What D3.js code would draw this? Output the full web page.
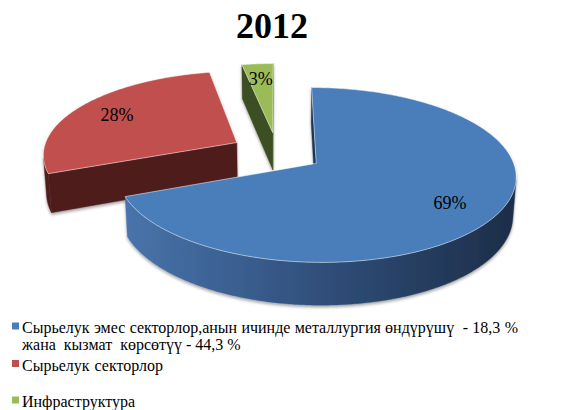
<!DOCTYPE html>
<html>
<head>
<meta charset="utf-8">
<script src="https://cdn.jsdelivr.net/npm/d3@7"></script>
<style>
  body { margin: 0; background: #fff; }
  svg { display: block; }
</style>
</head>
<body>
<svg id="chart" width="564" height="410"></svg>
<script>
// ---- data ----
const title = "2012";
const categories = [
  "Сырьелук эмес секторлор,анын ичинде металлургия өндүрүшү  - 18,3 %\nжана  кызмат  көрсөтүү - 44,3 %",
  "Сырьелук секторлор",
  "Инфраструктура"
];
const values = [69, 28, 3];
const valueLabels = ["69%", "28%", "3%"];

// ---- styles ----
const palette = [
  { top: "#4a7ebb", cut: "#1f3454", wallFrom: "#4874ab", wallMid: "#304f7b", wallTo: "#1c2d47", key: "#4a7ebb" },
  { top: "#c0504d", cut: "#4f1f1e", wallFrom: "#55211f", wallMid: "#4f1f1e", wallTo: "#4a1c1b", key: "#c0504d" },
  { top: "#9bbb59", cut: "#3e5022", wallFrom: "#4a5f29", wallMid: "#3e5022", wallTo: "#33431c", key: "#9bbb59" }
];
const serif = "'Liberation Serif', 'Times New Roman', serif";

const svg = d3.select("#chart");
const defs = svg.append("defs");

const shadow = defs.append("filter").attr("id", "shade")
  .attr("x", "-10%").attr("y", "-10%").attr("width", "120%").attr("height", "130%");
shadow.append("feDropShadow")
  .attr("dx", 0).attr("dy", 2).attr("stdDeviation", 1.6)
  .attr("flood-color", "#000").attr("flood-opacity", 0.35);

// ---- title ----
svg.append("text")
  .attr("x", 272).attr("y", 38)
  .attr("text-anchor", "middle")
  .attr("font-family", serif).attr("font-weight", "bold").attr("font-size", 36)
  .text(title);

// ---- 3D pie geometry ----
const geo = { cx: 277, cy: 152, S: 194, tilt: 25.3 * Math.PI / 180, F: 6.95, H: 0.22, explode: 0.24, labelR: 0.76 };
const sinT = Math.sin(geo.tilt), cosT = Math.cos(geo.tilt);
const xScale = d3.scaleLinear().domain([-1, 1]).range([geo.cx - geo.S, geo.cx + geo.S]);
const yScale = d3.scaleLinear().domain([-1, 1]).range([geo.cy + geo.S, geo.cy - geo.S]);
const cam = { x: 0, y: geo.F * sinT, z: -geo.F * cosT };

// world: x to the right, z away from the viewer, y up
function project(x, z, y) {
  const u = z * sinT + y * cosT;
  const d = z * cosT - y * sinT;
  const s = geo.F / (geo.F + d);
  return [xScale(x * s), yScale(u * s)];
}

const arcs = d3.pie().sort(null).value(d => d)(values).map((p, i) => {
  const mid = (p.startAngle + p.endAngle) / 2;
  return { ...p, i, mid, ox: geo.explode * Math.sin(mid), oz: geo.explode * Math.cos(mid) };
});

const rim = (s, a, y) => project(s.ox + Math.sin(a), s.oz + Math.cos(a), y);
const apex = (s, y) => project(s.ox, s.oz, y);
const line = d3.line();

function arcPoints(s, a0, a1, y) {
  const n = Math.max(2, Math.ceil((a1 - a0) / 0.01));
  return d3.range(n + 1).map(k => rim(s, a0 + (a1 - a0) * k / n, y));
}

function faces(s) {
  const H = -geo.H;
  const out = [];
  // radial cut faces
  const faceVisible = (nx, nz) => nx * (cam.x - s.ox) + nz * (cam.z - s.oz) > 0;
  if (faceVisible(-Math.cos(s.startAngle), Math.sin(s.startAngle))) {
    out.push({ kind: "cut", pts: [apex(s, 0), rim(s, s.startAngle, 0), rim(s, s.startAngle, H), apex(s, H)] });
  }
  if (faceVisible(Math.cos(s.endAngle), -Math.sin(s.endAngle))) {
    out.push({ kind: "cut", pts: [apex(s, 0), rim(s, s.endAngle, 0), rim(s, s.endAngle, H), apex(s, H)] });
  }
  // outer wall: contiguous ranges facing the camera
  const step = 0.005;
  let runStart = null;
  const ranges = [];
  for (let a = s.startAngle; a < s.endAngle; a += step) {
    const b = Math.min(a + step, s.endAngle), m = (a + b) / 2;
    const px = s.ox + Math.sin(m), pz = s.oz + Math.cos(m);
    const vis = Math.sin(m) * (cam.x - px) + Math.cos(m) * (cam.z - pz) > 0;
    if (vis && runStart === null) runStart = a;
    if (!vis && runStart !== null) { ranges.push([runStart, a]); runStart = null; }
  }
  if (runStart !== null) ranges.push([runStart, s.endAngle]);
  ranges.forEach(([b0, b1]) => {
    const topEdge = arcPoints(s, b0, b1, 0);
    const botEdge = arcPoints(s, b0, b1, H).reverse();
    out.push({ kind: "wall", pts: topEdge.concat(botEdge) });
  });
  // top face
  out.push({ kind: "top", pts: [apex(s, 0)].concat(arcPoints(s, s.startAngle, s.endAngle, 0)) });
  return out;
}

// paint far slices first
const order = arcs.slice().sort((a, b) => b.oz - a.oz);
const pieLayer = svg.append("g");

order.forEach(s => {
  const col = palette[s.i];
  const g = pieLayer.append("g").attr("filter", "url(#shade)");
  faces(s).forEach(f => {
    let fill = col.cut;
    if (f.kind === "top") fill = col.top;
    if (f.kind === "wall") {
      const xs = f.pts.map(p => p[0]);
      const gid = "wall" + s.i + "_" + Math.round(d3.min(xs));
      const grad = defs.append("linearGradient").attr("id", gid)
        .attr("gradientUnits", "userSpaceOnUse")
        .attr("x1", d3.min(xs)).attr("x2", d3.max(xs)).attr("y1", 0).attr("y2", 0);
      grad.append("stop").attr("offset", 0).attr("stop-color", col.wallFrom);
      grad.append("stop").attr("offset", 0.5).attr("stop-color", col.wallMid);
      grad.append("stop").attr("offset", 1).attr("stop-color", col.wallTo);
      fill = `url(#${gid})`;
    }
    g.append("path")
      .attr("d", line(f.pts) + "Z")
      .attr("fill", fill)
      .attr("stroke", f.kind === "top" ? "rgba(255,255,255,0.55)" : fill)
      .attr("stroke-width", f.kind === "top" ? 0.9 : 0.4)
      .attr("stroke-linejoin", "round");
  });
});

// value labels on the top faces
arcs.forEach(s => {
  const [x, y] = project(s.ox + geo.labelR * Math.sin(s.mid), s.oz + geo.labelR * Math.cos(s.mid), 0);
  svg.append("text")
    .attr("x", x).attr("y", y).attr("dy", "0.35em")
    .attr("text-anchor", "middle")
    .attr("font-family", serif).attr("font-size", 18)
    .attr("fill", "#000")
    .text(valueLabels[s.i]);
});

// ---- legend ----
const legendBase = [333, 370.5, 407];
const legendLineH = 16.5;
const legendLineEnd = [[518, 235], [163], [137]];
const legend = svg.append("g");
categories.forEach((name, i) => {
  legend.append("rect")
    .attr("x", 12).attr("y", legendBase[i] - 10.5)
    .attr("width", 7).attr("height", 7)
    .attr("fill", palette[i].key);
  name.split("\n").forEach((ln, k) => {
    const t = legend.append("text")
      .attr("x", 22).attr("y", legendBase[i] + k * legendLineH)
      .attr("font-family", serif).attr("font-size", 16)
      .attr("fill", "#000")
      .style("white-space", "pre")
      .text(ln);
    // widen the word gaps so each line fills its run
    const gaps = (ln.match(/ /g) || []).length;
    if (gaps) {
      const extra = legendLineEnd[i][k] - 22 - t.node().getComputedTextLength();
      if (extra > 0) t.attr("word-spacing", extra / gaps);
    }
  });
});
</script>
</body>
</html>
